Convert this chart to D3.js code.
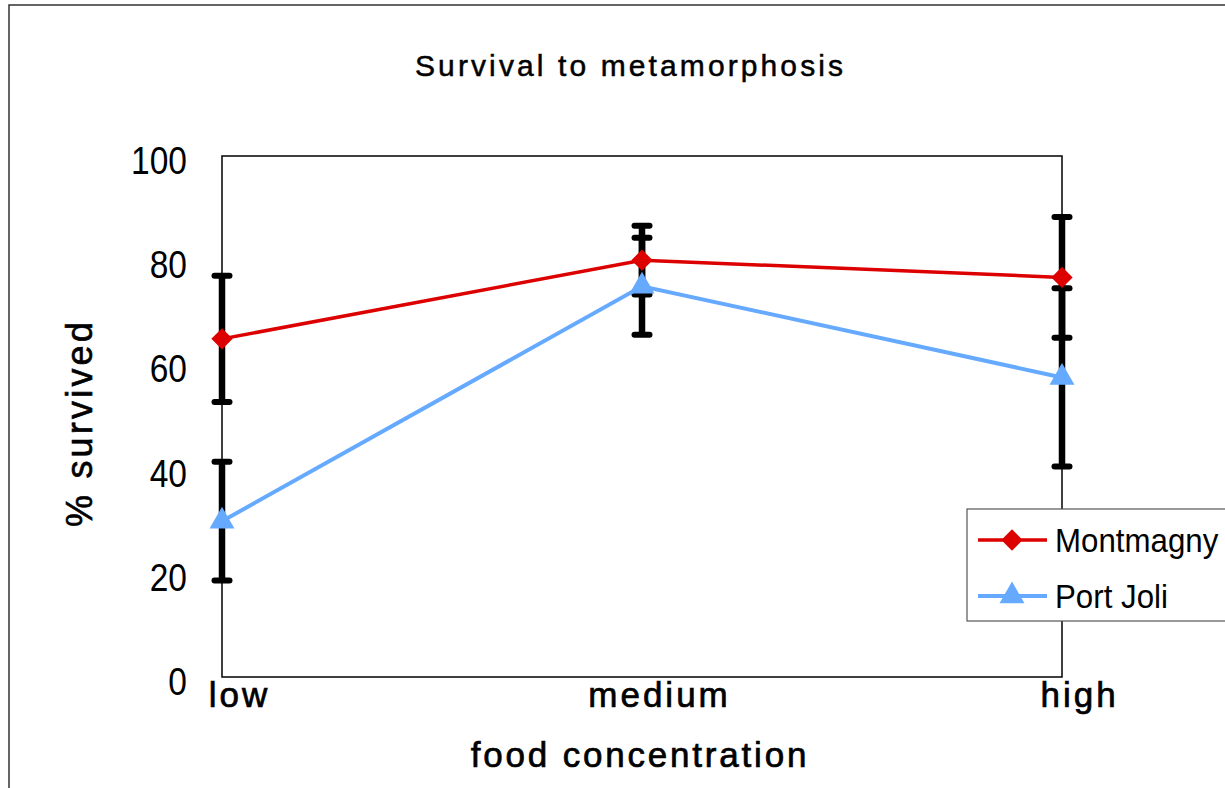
<!DOCTYPE html>
<html>
<head>
<meta charset="utf-8">
<script src="https://cdn.jsdelivr.net/npm/d3@7"></script>
<style>
  html, body { margin: 0; padding: 0; background: #fff; }
  svg { display: block; }
  text { font-family: "Liberation Sans", Arial, Helvetica, sans-serif; fill: #000; }
</style>
</head>
<body>
<svg id="chart" width="1225" height="788"></svg>
<script>
// ---- data ----
const categories = ["low", "medium", "high"];
const seriesNames = ["Montmagny", "Port Joli"];
const montmagny = [64.9, 80.0, 76.7];
const montmagnyErr = [12.1, 6.6, 11.6];
const portJoli = [29.9, 75.0, 57.5];
const portJoliErr = [11.4, 9.3, 17.1];
const yTicks = [0, 20, 40, 60, 80, 100];
const titleText = "Survival to metamorphosis";
const xTitle = "food concentration";
const yTitle = "% survived";

// ---- layout ----
const W = 1225, H = 788;
const plot = { left: 222, right: 1062, top: 156, bottom: 677 };
const colors = { "Montmagny": "#dd0000", "Port Joli": "#66aaff" };

const svg = d3.select("#chart");

// outer frame
svg.append("rect")
  .attr("x", 9).attr("y", 5).attr("width", 1400).attr("height", 1000)
  .attr("fill", "none").attr("stroke", "#333").attr("stroke-width", 1.5);

const x = d3.scalePoint().domain(categories).range([plot.left, plot.right]).padding(0);
const y = d3.scaleLinear().domain([0, 100]).range([plot.bottom, plot.top]);

// title
svg.append("text")
  .attr("x", 629).attr("y", 76)
  .attr("text-anchor", "middle")
  .attr("font-size", 30)
  .attr("stroke", "#000").attr("stroke-width", 0.5)
  .attr("textLength", 428)
  .attr("lengthAdjust", "spacing")
  .text(titleText);

// plot border
svg.append("rect")
  .attr("x", plot.left).attr("y", plot.top)
  .attr("width", plot.right - plot.left).attr("height", plot.bottom - plot.top)
  .attr("fill", "none").attr("stroke", "#000").attr("stroke-width", 1.5);

// y axis
const yScaleX = 0.86;
const yAxisG = svg.append("g")
  .attr("transform", `translate(${plot.left},0)`)
  .call(d3.axisLeft(y).tickValues(yTicks).tickSize(0).tickPadding(35).tickFormat(d3.format("d")));
yAxisG.select(".domain").remove();
yAxisG.selectAll("text")
  .attr("font-size", 39)
  .attr("font-family", "Liberation Sans, Arial, sans-serif")
  .attr("fill", "#000")
  .attr("dy", null)
  .attr("x", -35 / yScaleX)
  .attr("y", 17.5)
  .attr("transform", `scale(${yScaleX},1)`);

// x axis
const xAxisG = svg.append("g")
  .attr("transform", `translate(0,${plot.bottom})`)
  .call(d3.axisBottom(x).tickSize(0).tickPadding(0));
xAxisG.select(".domain").remove();
xAxisG.selectAll("text")
  .attr("font-size", 35)
  .attr("font-family", "Liberation Sans, Arial, sans-serif")
  .attr("fill", "#000")
  .attr("stroke", "#000").attr("stroke-width", 0.7)
  .attr("letter-spacing", 3)
  .attr("dy", null)
  .attr("x", 17)
  .attr("y", 30);

// axis titles
svg.append("text")
  .attr("x", 640).attr("y", 767)
  .attr("text-anchor", "middle")
  .attr("font-size", 35)
  .attr("stroke", "#000").attr("stroke-width", 0.7)
  .attr("letter-spacing", 2.8)
  .text(xTitle);

svg.append("text")
  .attr("transform", "translate(92,423) rotate(-90)")
  .attr("text-anchor", "middle")
  .attr("font-size", 36)
  .attr("stroke", "#000").attr("stroke-width", 0.6)
  .attr("letter-spacing", 3.2)
  .text(yTitle);

// series
const series = [
  { name: seriesNames[0], values: montmagny, err: montmagnyErr, symbol: d3.symbolDiamond2, size: 290 },
  { name: seriesNames[1], values: portJoli, err: portJoliErr, symbol: d3.symbolTriangle, size: 270 }
];

// error bars (behind)
const errG = svg.append("g");
series.forEach(s => {
  categories.forEach((c, i) => {
    const cx = x(c);
    const y1 = y(s.values[i] + s.err[i]);
    const y2 = y(s.values[i] - s.err[i]);
    errG.append("line")
      .attr("x1", cx).attr("x2", cx).attr("y1", y1).attr("y2", y2)
      .attr("stroke", "#000").attr("stroke-width", 6.5);
    [y1, y2].forEach(yy => {
      errG.append("line")
        .attr("x1", cx - 7.5).attr("x2", cx + 7.5).attr("y1", yy).attr("y2", yy)
        .attr("stroke", "#000").attr("stroke-width", 6).attr("stroke-linecap", "round");
    });
  });
});

// lines
const line = d3.line().x((d, i) => x(categories[i])).y(d => y(d));
series.forEach((s, k) => {
  svg.append("path")
    .attr("d", line(s.values))
    .attr("fill", "none")
    .attr("stroke", colors[s.name])
    .attr("stroke-width", k === 0 ? 3.5 : 4);
});

// markers
function symbolPath(s) {
  return d3.symbol().type(s.symbol).size(s.size)();
}
series.forEach(s => {
  svg.append("g").selectAll("path")
    .data(s.values)
    .join("path")
    .attr("d", symbolPath(s))
    .attr("transform", (d, i) => `translate(${x(categories[i])},${y(d)})`)
    .attr("fill", colors[s.name]);
});

// legend
const leg = svg.append("g");
leg.append("rect")
  .attr("x", 967).attr("y", 509).attr("width", 300).attr("height", 112)
  .attr("fill", "#fff").attr("stroke", "#555").attr("stroke-width", 1.2);
series.forEach((s, k) => {
  const ly = 540 + k * 56;
  leg.append("line")
    .attr("x1", 978).attr("x2", 1047).attr("y1", ly).attr("y2", ly)
    .attr("stroke", colors[s.name]).attr("stroke-width", k === 0 ? 3.5 : 4);
  leg.append("path")
    .attr("d", symbolPath(s))
    .attr("transform", `translate(1012,${ly})`)
    .attr("fill", colors[s.name]);
  leg.append("text")
    .attr("transform", `translate(1055,${ly + 12}) scale(0.92,1)`)
    .attr("font-size", 34)
    .text(s.name);
});
</script>
</body>
</html>
